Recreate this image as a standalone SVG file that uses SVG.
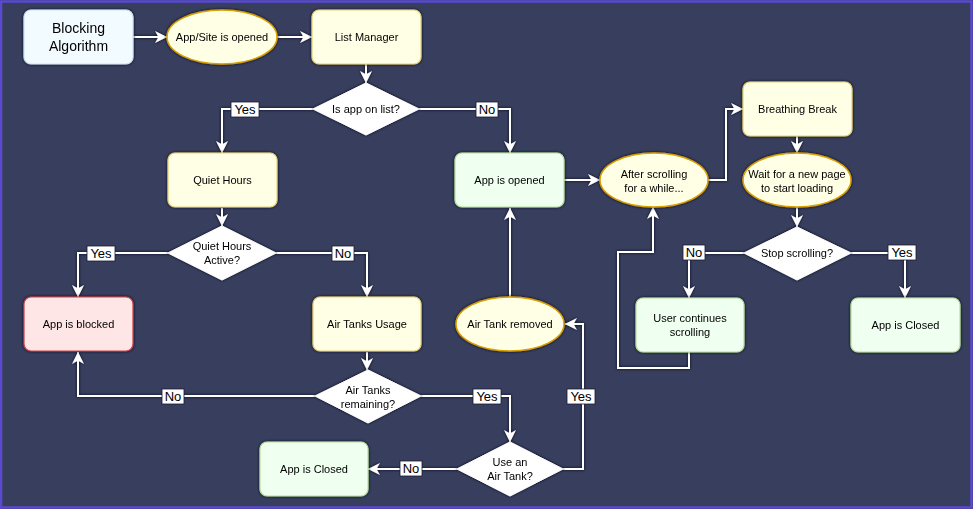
<svg xmlns="http://www.w3.org/2000/svg" width="973" height="509" viewBox="0 0 973 509">
<defs>
<filter id="halo" x="-20%" y="-20%" width="140%" height="140%">
<feDropShadow dx="0" dy="0" stdDeviation="1.4" flood-color="#05051e" flood-opacity="1"/>
</filter>
<marker id="arr" viewBox="0 0 10 10" refX="10" refY="5" markerWidth="12" markerHeight="12" markerUnits="userSpaceOnUse" orient="auto">
<path d="M0,0 L10,5 L0,10 L3,5 Z" fill="#ffffff"/>
</marker>
<style>
text{font-family:"Liberation Sans",Arial,sans-serif;font-size:11px;fill:#000;text-anchor:middle;dominant-baseline:central}
.node{filter:url(#halo)}
.yel{fill:#ffffe6;stroke:#e6d27a;stroke-width:1.2}
.grn{fill:#effff0;stroke:#b8e0a0;stroke-width:1.2}
.pnk{fill:#ffe6e6;stroke:#c8404a;stroke-width:1.2}
.blu{fill:#f2fbff;stroke:#cfe3f5;stroke-width:1.2}
.ell{fill:#ffffe6;stroke:#d8a000;stroke-width:1.5}
.dia{fill:#ffffff;stroke:#ffffff;stroke-width:1}
.conn path{fill:none;stroke:#ffffff;stroke-width:2;marker-end:url(#arr)}
.lbl rect{fill:#ffffff;stroke:#1a1a33;stroke-width:0.8}
.lbl text{font-size:13px}
</style>
</defs>
<rect x="0" y="0" width="973" height="509" fill="#383f5e"/>
<rect x="1" y="1.5" width="970.5" height="506" fill="none" stroke="#5a4ad2" stroke-width="2.5"/>

<g id="connectors" class="conn" filter="url(#halo)">
<path d="M133,37 H167"/>
<path d="M277,37 H312"/>
<path d="M366,64 V83"/>
<path d="M313,109 H222 V153"/>
<path d="M419,109 H510 V153"/>
<path d="M222,208 V226"/>
<path d="M168,253 H78 V297"/>
<path d="M276,253 H367 V297"/>
<path d="M367,352 V370"/>
<path d="M315,396 H78 V352"/>
<path d="M421,396 H510 V442"/>
<path d="M457,469 H368"/>
<path d="M563,469 H583 V324 H565"/>
<path d="M510,298 V208"/>
<path d="M564,180 H600"/>
<path d="M708,180 H726 V109 H743"/>
<path d="M797,136 V153"/>
<path d="M797,207 V227"/>
<path d="M744,253 H689 V298"/>
<path d="M851,253 H905 V298"/>
<path d="M689,352 V368 H618 V252 H653 V207"/>
</g>

<g id="labels" class="lbl">
<g><rect x="231" y="102" width="28" height="15"/><text x="245" y="109.5">Yes</text></g>
<g><rect x="476" y="102" width="22" height="15"/><text x="487" y="109.5">No</text></g>
<g><rect x="87" y="246" width="28" height="15"/><text x="101" y="253.5">Yes</text></g>
<g><rect x="332" y="246" width="22" height="15"/><text x="343" y="253.5">No</text></g>
<g><rect x="162" y="389" width="22" height="15"/><text x="173" y="396.5">No</text></g>
<g><rect x="473" y="389" width="28" height="15"/><text x="487" y="396.5">Yes</text></g>
<g><rect x="567" y="389" width="28" height="15"/><text x="581" y="396.5">Yes</text></g>
<g><rect x="400" y="461" width="22" height="15"/><text x="411" y="468.5">No</text></g>
<g><rect x="683" y="245" width="22" height="15"/><text x="694" y="252.5">No</text></g>
<g><rect x="888" y="245" width="28" height="15"/><text x="902" y="252.5">Yes</text></g>
</g>

<g id="blocking" class="node"><rect class="blu" x="24" y="10" width="109" height="54" rx="7"/><text x="78.5" y="28" style="font-size:14px">Blocking</text><text x="78.5" y="46" style="font-size:14px">Algorithm</text></g>
<g id="appsite" class="node"><ellipse class="ell" cx="222" cy="37" rx="55" ry="27"/><text x="222" y="37">App/Site is opened</text></g>
<g id="listmgr" class="node"><rect class="yel" x="312" y="10" width="109" height="54" rx="7"/><text x="366.5" y="37">List Manager</text></g>
<g id="isapp" class="node"><polygon class="dia" points="366,83 419,109 366,135 313,109"/><text x="366" y="109">Is app on list?</text></g>
<g id="quiet" class="node"><rect class="yel" x="168" y="153" width="109" height="54" rx="7"/><text x="222.5" y="180">Quiet Hours</text></g>
<g id="qactive" class="node"><polygon class="dia" points="222,226 276,253 222,280 168,253"/><text x="222" y="246">Quiet Hours</text><text x="222" y="260">Active?</text></g>
<g id="blocked" class="node"><rect class="pnk" x="24" y="297" width="109" height="54" rx="7"/><text x="78.5" y="324">App is blocked</text></g>
<g id="tanksusage" class="node"><rect class="yel" x="313" y="297" width="108" height="54" rx="7"/><text x="367" y="324">Air Tanks Usage</text></g>
<g id="remaining" class="node"><polygon class="dia" points="368,370 421,396 368,423 315,396"/><text x="368" y="390">Air Tanks</text><text x="368" y="404">remaining?</text></g>
<g id="useTank" class="node"><polygon class="dia" points="510,442 563,469 510,496 457,469"/><text x="510" y="462">Use an</text><text x="510" y="476">Air Tank?</text></g>
<g id="closedL" class="node"><rect class="grn" x="260" y="442" width="108" height="54" rx="7"/><text x="314" y="469">App is Closed</text></g>
<g id="tankRemoved" class="node"><ellipse class="ell" cx="510" cy="324" rx="54" ry="27"/><text x="510" y="324">Air Tank removed</text></g>
<g id="opened" class="node"><rect class="grn" x="455" y="153" width="109" height="54" rx="7"/><text x="509.5" y="180">App is opened</text></g>
<g id="afterScroll" class="node"><ellipse class="ell" cx="654" cy="180" rx="54" ry="27"/><text x="654" y="174">After scrolling</text><text x="654" y="188">for a while...</text></g>
<g id="breathing" class="node"><rect class="yel" x="743" y="82" width="109" height="54" rx="7"/><text x="797.5" y="109">Breathing Break</text></g>
<g id="waitPage" class="node"><ellipse class="ell" cx="797" cy="180" rx="54" ry="27"/><text x="797" y="174">Wait for a new page</text><text x="797" y="188">to start loading</text></g>
<g id="stop" class="node"><polygon class="dia" points="797,227 851,253 797,280 744,253"/><text x="797" y="253">Stop scrolling?</text></g>
<g id="continues" class="node"><rect class="grn" x="636" y="298" width="108" height="54" rx="7"/><text x="690" y="318">User continues</text><text x="690" y="332">scrolling</text></g>
<g id="closedR" class="node"><rect class="grn" x="851" y="298" width="109" height="54" rx="7"/><text x="905.5" y="325">App is Closed</text></g>
</svg>
